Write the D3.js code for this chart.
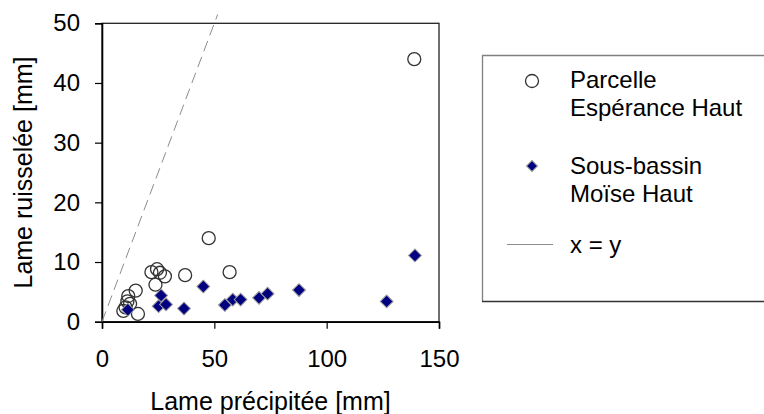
<!DOCTYPE html>
<html>
<head>
<meta charset="utf-8">
<script src="https://cdn.jsdelivr.net/npm/d3@7"></script>
<style>
  html, body { margin: 0; padding: 0; background: #fff; }
  svg { display: block; font-family: "Liberation Sans", Arial, sans-serif; }
</style>
</head>
<body>
<svg id="chart" width="764" height="414"></svg>
<script>
// ---- data ----
const parcelleX = [9.5, 10.5, 11.3, 11.7, 12.5, 15.0, 16.0, 22.0, 23.8, 24.5, 25.8, 28.0, 37.0, 47.5, 56.8, 139.0];
const parcelleY = [1.8, 2.4, 3.4, 4.3, 3.0, 5.2, 1.3, 8.3, 6.2, 8.8, 8.2, 7.6, 7.8, 14.0, 8.3, 44.0];
const bassinX = [11.5, 26.3, 25.2, 28.5, 36.5, 45.1, 54.7, 58.2, 61.7, 69.9, 73.7, 87.7, 126.7, 139.3];
const bassinY = [2.0, 4.4, 2.6, 2.9, 2.2, 5.9, 2.8, 3.7, 3.7, 4.0, 4.7, 5.3, 3.4, 11.1];
const identityLine = [0, 51.5];
const xTicks = [0, 50, 100, 150];
const yTicks = [0, 10, 20, 30, 40, 50];
const legendLabels = [["Parcelle", "Espérance Haut"], ["Sous-bassin", "Moïse Haut"], ["x = y"]];
const xTitle = "Lame précipitée [mm]";
const yTitle = "Lame ruisselée [mm]";

// ---- layout ----
const svg = d3.select("#chart");
const x = d3.scaleLinear().domain([0, 150]).range([102, 439]);
const y = d3.scaleLinear().domain([0, 50]).range([321.7, 23.3]);
const tickFont = 24, titleFont = 25, legendFont = 24;

// plot frame
svg.append("rect")
  .attr("x", x(0)).attr("y", y(50))
  .attr("width", x(150) - x(0)).attr("height", y(0) - y(50))
  .attr("fill", "none").attr("stroke", "#222").attr("stroke-width", 1.3);

// axes
const xAxis = svg.append("g").attr("transform", `translate(0,${y(0)})`)
  .call(d3.axisBottom(x).tickValues(xTicks).tickSize(7).tickPadding(21).tickFormat(d3.format("d")));
const yAxis = svg.append("g").attr("transform", `translate(${x(0)},0)`)
  .call(d3.axisLeft(y).tickValues(yTicks).tickSize(7).tickPadding(15).tickFormat(d3.format("d")));
[xAxis, yAxis].forEach(g => {
  g.select(".domain").attr("stroke", "#000").attr("stroke-width", 1.6);
  g.selectAll(".tick line").attr("stroke", "#000").attr("stroke-width", 1.2);
  g.selectAll(".tick text").attr("font-size", tickFont).attr("fill", "#000")
    .attr("font-family", "'Liberation Sans', Arial, sans-serif");
});

// x = y line
svg.append("line")
  .attr("x1", x(identityLine[0])).attr("y1", y(identityLine[0]))
  .attr("x2", x(identityLine[1])).attr("y2", y(identityLine[1]))
  .attr("stroke", "#8c8c8c").attr("stroke-width", 1).attr("stroke-dasharray", "11,6");

// circles
const parcelle = parcelleX.map((v, i) => ({x: v, y: parcelleY[i]}));
svg.append("g").selectAll("circle").data(parcelle).join("circle")
  .attr("cx", d => x(d.x)).attr("cy", d => y(d.y)).attr("r", 6.5)
  .attr("fill", "none").attr("stroke", "#333").attr("stroke-width", 1.3);

// diamonds
const bassin = bassinX.map((v, i) => ({x: v, y: bassinY[i]}));
const diamond = d3.symbol().type(d3.symbolSquare).size(82);
svg.append("g").selectAll("path").data(bassin).join("path")
  .attr("d", diamond)
  .attr("transform", d => `translate(${x(d.x)},${y(d.y)}) rotate(45)`)
  .attr("fill", "#000080").attr("stroke", "#9a9a9a").attr("stroke-width", 1);

// axis titles
svg.append("text").attr("x", (x(0) + x(150)) / 2).attr("y", 410)
  .attr("text-anchor", "middle").attr("font-size", titleFont).text(xTitle);
svg.append("text").attr("transform", `translate(32,${(y(0) + y(50)) / 2}) rotate(-90)`)
  .attr("text-anchor", "middle").attr("font-size", titleFont).text(yTitle);

// legend
const lg = svg.append("g");
lg.append("path").attr("d", "M482.5,301.5 L482.5,55.5 L770,55.5").attr("fill", "none").attr("stroke", "#808080").attr("stroke-width", 1.3);
lg.append("line").attr("x1", 482).attr("x2", 770).attr("y1", 301.5).attr("y2", 301.5).attr("stroke", "#333").attr("stroke-width", 1.3);
const textX = 570, markerX = 532;
const firstBaselines = [88, 174, 253];
const lineGap = 28;
legendLabels.forEach((lines, i) => {
  const t = lg.append("text").attr("font-size", legendFont);
  lines.forEach((s, j) => {
    t.append("tspan").attr("x", textX).attr("y", firstBaselines[i] + j * lineGap).text(s);
  });
});
lg.append("circle").attr("cx", markerX).attr("cy", 81).attr("r", 6.5)
  .attr("fill", "none").attr("stroke", "#333").attr("stroke-width", 1.3);
lg.append("path").attr("d", d3.symbol().type(d3.symbolSquare).size(60))
  .attr("transform", `translate(${markerX},166) rotate(45)`)
  .attr("fill", "#000080").attr("stroke", "#9a9a9a").attr("stroke-width", 1);
lg.append("line").attr("x1", 507).attr("x2", 553).attr("y1", 244.5).attr("y2", 244.5)
  .attr("stroke", "#8c8c8c").attr("stroke-width", 1);
</script>
</body>
</html>
